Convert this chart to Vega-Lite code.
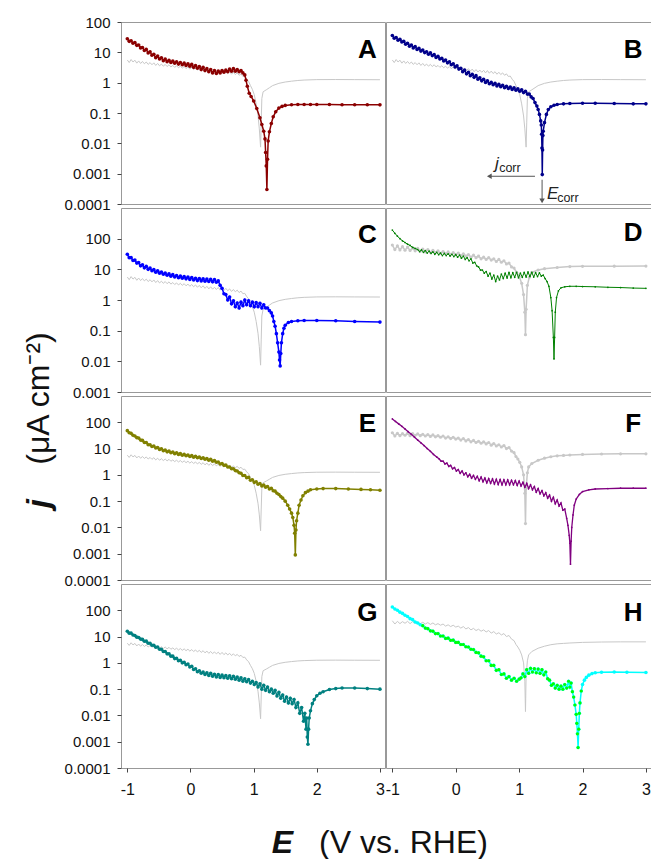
{
"$schema": "https://vega.github.io/schema/vega-lite/v6.json",
"padding": {"left": 21, "top": 14, "right": 0, "bottom": 0},
"background": "white",
"config": {
  "font": "Liberation Sans",
  "view": {"stroke": "#999999", "strokeWidth": 1},
  "axis": {"domain": false, "grid": false, "ticks": true, "tickSize": 4, "tickColor": "#444444", "labelFontSize": 15, "labelColor": "#111111", "labelFont": "Liberation Sans", "titleFont": "Liberation Sans", "titleColor": "#111111", "labelPadding": 7, "labelOverlap": false, "labelFlush": false},
  "axisX": {"labelFontSize": 16, "labelPadding": 9}
},
"datasets": {
"ref1": [
{"E":-1,"j":5.6},{"E":-0.97,"j":4.6},{"E":-0.94,"j":5.8},{"E":-0.91,"j":4.8},{"E":-0.88,"j":5.5},{"E":-0.85,"j":4.4},{"E":-0.82,"j":5.2},{"E":-0.79,"j":4.3},{"E":-0.76,"j":5.0},{"E":-0.73,"j":4.2},{"E":-0.7,"j":4.8},{"E":-0.67,"j":4.0},{"E":-0.64,"j":4.6},{"E":-0.61,"j":3.9},{"E":-0.58,"j":4.5},{"E":-0.55,"j":3.7},{"E":-0.52,"j":4.3},{"E":-0.49,"j":3.6},{"E":-0.46,"j":4.1},{"E":-0.43,"j":3.5},{"E":-0.4,"j":4.0},{"E":-0.37,"j":3.4},{"E":-0.34,"j":3.9},{"E":-0.31,"j":3.3},{"E":-0.28,"j":3.7},{"E":-0.25,"j":3.2},{"E":-0.22,"j":3.6},{"E":-0.19,"j":3.1},{"E":-0.16,"j":3.5},{"E":-0.13,"j":3.0},{"E":-0.1,"j":3.4},{"E":-0.07,"j":2.9},{"E":-0.04,"j":3.3},{"E":-0.01,"j":2.8},{"E":0.02,"j":3.2},{"E":0.05,"j":2.7},{"E":0.08,"j":3.1},{"E":0.11,"j":2.6},{"E":0.14,"j":3.0},{"E":0.17,"j":2.5},{"E":0.2,"j":2.9},{"E":0.23,"j":2.4},{"E":0.26,"j":2.8},{"E":0.29,"j":2.3},{"E":0.32,"j":2.7},{"E":0.35,"j":2.25},{"E":0.38,"j":2.6},{"E":0.41,"j":2.2},{"E":0.44,"j":2.55},{"E":0.47,"j":2.1},{"E":0.5,"j":2.5},{"E":0.53,"j":2.05},{"E":0.56,"j":2.4},{"E":0.59,"j":2.0},{"E":0.62,"j":2.3},{"E":0.65,"j":1.9},{"E":0.68,"j":2.2},{"E":0.71,"j":1.85},{"E":0.74,"j":2.1},{"E":0.77,"j":1.75},{"E":0.8,"j":1.95},{"E":0.83,"j":1.6},{"E":0.86,"j":1.65},{"E":0.89,"j":1.3},{"E":0.92,"j":1.1},{"E":0.95,"j":0.8},{"E":0.98,"j":0.6},{"E":1.01,"j":0.4},{"E":1.04,"j":0.2},{"E":1.07,"j":0.08},{"E":1.09,"j":0.03},{"E":1.11,"j":0.0075},{"E":1.12,"j":0.05},{"E":1.13,"j":0.3},{"E":1.15,"j":0.5},{"E":1.2,"j":0.58},{"E":1.25,"j":0.68},{"E":1.3,"j":0.8},{"E":1.4,"j":0.95},{"E":1.5,"j":1.05},{"E":1.6,"j":1.12},{"E":1.7,"j":1.18},{"E":1.8,"j":1.22},{"E":2.0,"j":1.26},{"E":2.3,"j":1.27},{"E":2.6,"j":1.26},{"E":3.0,"j":1.25}
],
"ref2": [
{"E":-1,"j":40},{"E":-0.96,"j":30},{"E":-0.92,"j":38},{"E":-0.88,"j":31},{"E":-0.84,"j":37},{"E":-0.8,"j":32},{"E":-0.76,"j":38},{"E":-0.72,"j":31},{"E":-0.68,"j":37},{"E":-0.64,"j":32},{"E":-0.6,"j":36},{"E":-0.56,"j":31},{"E":-0.52,"j":35},{"E":-0.48,"j":30},{"E":-0.44,"j":34},{"E":-0.4,"j":29},{"E":-0.36,"j":33},{"E":-0.32,"j":28},{"E":-0.28,"j":31},{"E":-0.24,"j":27},{"E":-0.2,"j":30},{"E":-0.16,"j":25},{"E":-0.12,"j":28},{"E":-0.08,"j":24},{"E":-0.04,"j":27},{"E":0,"j":23},{"E":0.04,"j":25},{"E":0.08,"j":21},{"E":0.12,"j":24},{"E":0.16,"j":19.5},{"E":0.2,"j":22},{"E":0.24,"j":18},{"E":0.28,"j":20.5},{"E":0.32,"j":17},{"E":0.36,"j":19},{"E":0.4,"j":16},{"E":0.44,"j":18},{"E":0.48,"j":15},{"E":0.52,"j":17},{"E":0.56,"j":13.5},{"E":0.6,"j":15.5},{"E":0.64,"j":12.5},{"E":0.68,"j":14},{"E":0.72,"j":11.5},{"E":0.76,"j":13},{"E":0.8,"j":10},{"E":0.84,"j":11},{"E":0.88,"j":8},{"E":0.92,"j":7},{"E":0.95,"j":5},{"E":0.98,"j":4},{"E":1.01,"j":3},{"E":1.04,"j":2},{"E":1.07,"j":1},{"E":1.09,"j":0.2},{"E":1.1,"j":0.014},{"E":1.11,"j":0.3},{"E":1.13,"j":1.2},{"E":1.15,"j":2.0},{"E":1.2,"j":2.7},{"E":1.3,"j":3.6},{"E":1.4,"j":4.3},{"E":1.5,"j":4.9},{"E":1.6,"j":5.3},{"E":1.7,"j":5.5},{"E":1.8,"j":5.7},{"E":2.0,"j":6.0},{"E":2.3,"j":6.2},{"E":2.6,"j":6.3},{"E":3.0,"j":6.3}
],
"ref3": [
{"E":-1,"j":62},{"E":-0.96,"j":44},{"E":-0.92,"j":58},{"E":-0.88,"j":43},{"E":-0.84,"j":55},{"E":-0.8,"j":42},{"E":-0.76,"j":53},{"E":-0.72,"j":41},{"E":-0.68,"j":50},{"E":-0.64,"j":40},{"E":-0.6,"j":48},{"E":-0.56,"j":39},{"E":-0.52,"j":46},{"E":-0.48,"j":37},{"E":-0.44,"j":44},{"E":-0.4,"j":36},{"E":-0.36,"j":42},{"E":-0.32,"j":35},{"E":-0.28,"j":40},{"E":-0.24,"j":33},{"E":-0.2,"j":38},{"E":-0.16,"j":32},{"E":-0.12,"j":37},{"E":-0.08,"j":31},{"E":-0.04,"j":35},{"E":0,"j":30},{"E":0.04,"j":34},{"E":0.08,"j":28},{"E":0.12,"j":32},{"E":0.16,"j":27},{"E":0.2,"j":30},{"E":0.24,"j":25},{"E":0.28,"j":29},{"E":0.32,"j":24},{"E":0.36,"j":27},{"E":0.4,"j":22},{"E":0.44,"j":25},{"E":0.48,"j":21},{"E":0.52,"j":24},{"E":0.56,"j":20},{"E":0.6,"j":22},{"E":0.64,"j":18},{"E":0.68,"j":21},{"E":0.72,"j":17},{"E":0.76,"j":19},{"E":0.8,"j":15},{"E":0.84,"j":16},{"E":0.88,"j":12},{"E":0.92,"j":11},{"E":0.96,"j":8},{"E":1.0,"j":6},{"E":1.04,"j":3.5},{"E":1.07,"j":1.5},{"E":1.09,"j":0.4},{"E":1.1,"j":0.074},{"E":1.11,"j":0.5},{"E":1.13,"j":3.0},{"E":1.16,"j":5.5},{"E":1.2,"j":8.0},{"E":1.3,"j":9.5},{"E":1.4,"j":10.5},{"E":1.6,"j":11.5},{"E":1.8,"j":12.3},{"E":2.0,"j":12.5},{"E":2.5,"j":12.7},{"E":3.0,"j":12.8}
],
"s": [
{"p":"A","E":-1,"j":28},{"p":"A","E":-0.97,"j":23},{"p":"A","E":-0.94,"j":24},{"p":"A","E":-0.91,"j":20},{"p":"A","E":-0.88,"j":21},{"p":"A","E":-0.85,"j":17},{"p":"A","E":-0.82,"j":17.5},{"p":"A","E":-0.79,"j":14},{"p":"A","E":-0.76,"j":14.5},{"p":"A","E":-0.73,"j":11.5},{"p":"A","E":-0.7,"j":12.5},{"p":"A","E":-0.67,"j":9.5},{"p":"A","E":-0.64,"j":10.5},{"p":"A","E":-0.61,"j":8},{"p":"A","E":-0.58,"j":8.6},{"p":"A","E":-0.55,"j":6.6},{"p":"A","E":-0.52,"j":7.5},{"p":"A","E":-0.49,"j":6.0},{"p":"A","E":-0.46,"j":6.6},{"p":"A","E":-0.43,"j":5.3},{"p":"A","E":-0.4,"j":6.0},{"p":"A","E":-0.37,"j":4.9},{"p":"A","E":-0.34,"j":5.5},{"p":"A","E":-0.31,"j":4.6},{"p":"A","E":-0.28,"j":5.2},{"p":"A","E":-0.25,"j":4.4},{"p":"A","E":-0.22,"j":4.9},{"p":"A","E":-0.19,"j":4.1},{"p":"A","E":-0.16,"j":4.6},{"p":"A","E":-0.13,"j":3.9},{"p":"A","E":-0.1,"j":4.4},{"p":"A","E":-0.07,"j":3.7},{"p":"A","E":-0.04,"j":4.2},{"p":"A","E":-0.01,"j":3.5},{"p":"A","E":0.02,"j":4.0},{"p":"A","E":0.05,"j":3.2},{"p":"A","E":0.08,"j":3.7},{"p":"A","E":0.11,"j":3.0},{"p":"A","E":0.14,"j":3.4},{"p":"A","E":0.17,"j":2.7},{"p":"A","E":0.2,"j":3.2},{"p":"A","E":0.23,"j":2.5},{"p":"A","E":0.26,"j":2.9},{"p":"A","E":0.29,"j":2.3},{"p":"A","E":0.32,"j":2.7},{"p":"A","E":0.35,"j":2.1},{"p":"A","E":0.38,"j":2.5},{"p":"A","E":0.41,"j":2.0},{"p":"A","E":0.44,"j":2.4},{"p":"A","E":0.47,"j":2.1},{"p":"A","E":0.5,"j":2.5},{"p":"A","E":0.53,"j":2.2},{"p":"A","E":0.56,"j":2.6},{"p":"A","E":0.59,"j":2.3},{"p":"A","E":0.62,"j":2.8},{"p":"A","E":0.65,"j":2.4},{"p":"A","E":0.68,"j":2.9},{"p":"A","E":0.71,"j":2.4},{"p":"A","E":0.74,"j":2.7},{"p":"A","E":0.77,"j":2.3},{"p":"A","E":0.8,"j":2.5},{"p":"A","E":0.83,"j":2.1},{"p":"A","E":0.86,"j":1.8},{"p":"A","E":0.88,"j":1.2},{"p":"A","E":0.9,"j":0.76},{"p":"A","E":0.93,"j":0.45},{"p":"A","E":0.96,"j":0.35},{"p":"A","E":1.0,"j":0.25},{"p":"A","E":1.05,"j":0.14},{"p":"A","E":1.1,"j":0.07},{"p":"A","E":1.13,"j":0.042},{"p":"A","E":1.16,"j":0.025},{"p":"A","E":1.18,"j":0.014},{"p":"A","E":1.19,"j":0.005},{"p":"A","E":1.2,"j":0.0018},{"p":"A","E":1.21,"j":0.0003},{"p":"A","E":1.22,"j":0.003},{"p":"A","E":1.23,"j":0.012},{"p":"A","E":1.25,"j":0.024},{"p":"A","E":1.28,"j":0.045},{"p":"A","E":1.31,"j":0.075},{"p":"A","E":1.35,"j":0.11},{"p":"A","E":1.4,"j":0.145},{"p":"A","E":1.45,"j":0.165},{"p":"A","E":1.5,"j":0.178},{"p":"A","E":1.6,"j":0.188},{"p":"A","E":1.7,"j":0.19},{"p":"A","E":1.8,"j":0.19},{"p":"A","E":1.9,"j":0.19},{"p":"A","E":2.0,"j":0.19},{"p":"A","E":2.2,"j":0.19},{"p":"A","E":2.4,"j":0.188},{"p":"A","E":2.6,"j":0.188},{"p":"A","E":2.8,"j":0.187},{"p":"A","E":3.0,"j":0.186},
{"p":"B","E":-1,"j":36},{"p":"B","E":-0.97,"j":29},{"p":"B","E":-0.94,"j":31},{"p":"B","E":-0.91,"j":25},{"p":"B","E":-0.88,"j":27},{"p":"B","E":-0.85,"j":22},{"p":"B","E":-0.82,"j":23},{"p":"B","E":-0.79,"j":18.5},{"p":"B","E":-0.76,"j":20},{"p":"B","E":-0.73,"j":16},{"p":"B","E":-0.7,"j":17.5},{"p":"B","E":-0.67,"j":14},{"p":"B","E":-0.64,"j":15.5},{"p":"B","E":-0.61,"j":12.5},{"p":"B","E":-0.58,"j":13.5},{"p":"B","E":-0.55,"j":11},{"p":"B","E":-0.52,"j":12},{"p":"B","E":-0.49,"j":9.8},{"p":"B","E":-0.46,"j":10.5},{"p":"B","E":-0.43,"j":8.6},{"p":"B","E":-0.4,"j":9.6},{"p":"B","E":-0.37,"j":7.8},{"p":"B","E":-0.34,"j":8.4},{"p":"B","E":-0.31,"j":6.8},{"p":"B","E":-0.28,"j":7.4},{"p":"B","E":-0.25,"j":6.0},{"p":"B","E":-0.22,"j":6.4},{"p":"B","E":-0.19,"j":5.2},{"p":"B","E":-0.16,"j":5.6},{"p":"B","E":-0.13,"j":4.5},{"p":"B","E":-0.1,"j":4.9},{"p":"B","E":-0.07,"j":3.9},{"p":"B","E":-0.04,"j":4.2},{"p":"B","E":-0.01,"j":3.3},{"p":"B","E":0.02,"j":3.6},{"p":"B","E":0.05,"j":2.8},{"p":"B","E":0.08,"j":3.0},{"p":"B","E":0.11,"j":2.3},{"p":"B","E":0.14,"j":2.6},{"p":"B","E":0.17,"j":1.95},{"p":"B","E":0.2,"j":2.2},{"p":"B","E":0.23,"j":1.7},{"p":"B","E":0.26,"j":1.9},{"p":"B","E":0.29,"j":1.5},{"p":"B","E":0.32,"j":1.7},{"p":"B","E":0.35,"j":1.3},{"p":"B","E":0.38,"j":1.45},{"p":"B","E":0.41,"j":1.15},{"p":"B","E":0.44,"j":1.3},{"p":"B","E":0.47,"j":1.02},{"p":"B","E":0.5,"j":1.15},{"p":"B","E":0.53,"j":0.92},{"p":"B","E":0.56,"j":1.02},{"p":"B","E":0.59,"j":0.85},{"p":"B","E":0.62,"j":0.95},{"p":"B","E":0.65,"j":0.78},{"p":"B","E":0.68,"j":0.88},{"p":"B","E":0.71,"j":0.73},{"p":"B","E":0.74,"j":0.82},{"p":"B","E":0.77,"j":0.68},{"p":"B","E":0.8,"j":0.76},{"p":"B","E":0.83,"j":0.64},{"p":"B","E":0.86,"j":0.72},{"p":"B","E":0.89,"j":0.6},{"p":"B","E":0.92,"j":0.68},{"p":"B","E":0.95,"j":0.56},{"p":"B","E":0.98,"j":0.63},{"p":"B","E":1.01,"j":0.52},{"p":"B","E":1.04,"j":0.58},{"p":"B","E":1.07,"j":0.47},{"p":"B","E":1.1,"j":0.52},{"p":"B","E":1.13,"j":0.42},{"p":"B","E":1.16,"j":0.42},{"p":"B","E":1.19,"j":0.34},{"p":"B","E":1.22,"j":0.3},{"p":"B","E":1.25,"j":0.22},{"p":"B","E":1.28,"j":0.17},{"p":"B","E":1.3,"j":0.13},{"p":"B","E":1.32,"j":0.09},{"p":"B","E":1.34,"j":0.055},{"p":"B","E":1.35,"j":0.04},{"p":"B","E":1.355,"j":0.02},{"p":"B","E":1.36,"j":0.007},{"p":"B","E":1.365,"j":0.00093},{"p":"B","E":1.37,"j":0.006},{"p":"B","E":1.375,"j":0.018},{"p":"B","E":1.38,"j":0.025},{"p":"B","E":1.4,"j":0.048},{"p":"B","E":1.43,"j":0.09},{"p":"B","E":1.46,"j":0.13},{"p":"B","E":1.5,"j":0.16},{"p":"B","E":1.55,"j":0.18},{"p":"B","E":1.6,"j":0.19},{"p":"B","E":1.7,"j":0.2},{"p":"B","E":1.8,"j":0.205},{"p":"B","E":2.0,"j":0.21},{"p":"B","E":2.2,"j":0.21},{"p":"B","E":2.5,"j":0.205},{"p":"B","E":2.8,"j":0.2},{"p":"B","E":3.0,"j":0.2},
{"p":"C","E":-1,"j":31},{"p":"C","E":-0.97,"j":24},{"p":"C","E":-0.94,"j":24},{"p":"C","E":-0.91,"j":19.5},{"p":"C","E":-0.88,"j":20},{"p":"C","E":-0.85,"j":16},{"p":"C","E":-0.82,"j":16.5},{"p":"C","E":-0.79,"j":13},{"p":"C","E":-0.76,"j":14},{"p":"C","E":-0.73,"j":11.2},{"p":"C","E":-0.7,"j":12.5},{"p":"C","E":-0.67,"j":10},{"p":"C","E":-0.64,"j":11},{"p":"C","E":-0.61,"j":9},{"p":"C","E":-0.58,"j":9.8},{"p":"C","E":-0.55,"j":8},{"p":"C","E":-0.52,"j":9},{"p":"C","E":-0.49,"j":7.5},{"p":"C","E":-0.46,"j":8.2},{"p":"C","E":-0.43,"j":6.9},{"p":"C","E":-0.4,"j":7.6},{"p":"C","E":-0.37,"j":6.4},{"p":"C","E":-0.34,"j":7.1},{"p":"C","E":-0.31,"j":6.0},{"p":"C","E":-0.28,"j":6.7},{"p":"C","E":-0.25,"j":5.6},{"p":"C","E":-0.22,"j":6.3},{"p":"C","E":-0.19,"j":5.3},{"p":"C","E":-0.16,"j":6.0},{"p":"C","E":-0.13,"j":5.1},{"p":"C","E":-0.1,"j":5.8},{"p":"C","E":-0.07,"j":4.9},{"p":"C","E":-0.04,"j":5.6},{"p":"C","E":-0.01,"j":4.7},{"p":"C","E":0.02,"j":5.4},{"p":"C","E":0.05,"j":4.5},{"p":"C","E":0.08,"j":5.1},{"p":"C","E":0.11,"j":4.3},{"p":"C","E":0.14,"j":5.0},{"p":"C","E":0.17,"j":4.2},{"p":"C","E":0.2,"j":4.9},{"p":"C","E":0.23,"j":4.1},{"p":"C","E":0.26,"j":4.8},{"p":"C","E":0.29,"j":4.0},{"p":"C","E":0.32,"j":4.7},{"p":"C","E":0.35,"j":3.9},{"p":"C","E":0.38,"j":4.6},{"p":"C","E":0.41,"j":3.8},{"p":"C","E":0.44,"j":4.2},{"p":"C","E":0.47,"j":3.0},{"p":"C","E":0.5,"j":2.4},{"p":"C","E":0.53,"j":1.6},{"p":"C","E":0.56,"j":1.5},{"p":"C","E":0.59,"j":1.0},{"p":"C","E":0.62,"j":1.25},{"p":"C","E":0.65,"j":0.75},{"p":"C","E":0.68,"j":0.95},{"p":"C","E":0.71,"j":0.6},{"p":"C","E":0.74,"j":0.8},{"p":"C","E":0.77,"j":0.55},{"p":"C","E":0.8,"j":0.85},{"p":"C","E":0.83,"j":0.65},{"p":"C","E":0.86,"j":1.0},{"p":"C","E":0.89,"j":0.7},{"p":"C","E":0.92,"j":0.95},{"p":"C","E":0.95,"j":0.65},{"p":"C","E":0.98,"j":0.85},{"p":"C","E":1.01,"j":0.6},{"p":"C","E":1.04,"j":0.82},{"p":"C","E":1.07,"j":0.6},{"p":"C","E":1.1,"j":0.78},{"p":"C","E":1.13,"j":0.55},{"p":"C","E":1.16,"j":0.7},{"p":"C","E":1.19,"j":0.55},{"p":"C","E":1.22,"j":0.55},{"p":"C","E":1.25,"j":0.45},{"p":"C","E":1.28,"j":0.38},{"p":"C","E":1.3,"j":0.3},{"p":"C","E":1.32,"j":0.2},{"p":"C","E":1.34,"j":0.14},{"p":"C","E":1.36,"j":0.08},{"p":"C","E":1.38,"j":0.04},{"p":"C","E":1.4,"j":0.02},{"p":"C","E":1.41,"j":0.011},{"p":"C","E":1.42,"j":0.0071},{"p":"C","E":1.43,"j":0.018},{"p":"C","E":1.44,"j":0.04},{"p":"C","E":1.46,"j":0.08},{"p":"C","E":1.48,"j":0.12},{"p":"C","E":1.5,"j":0.15},{"p":"C","E":1.55,"j":0.185},{"p":"C","E":1.6,"j":0.2},{"p":"C","E":1.7,"j":0.21},{"p":"C","E":1.8,"j":0.215},{"p":"C","E":2.0,"j":0.215},{"p":"C","E":2.3,"j":0.21},{"p":"C","E":2.6,"j":0.2},{"p":"C","E":3.0,"j":0.19},
{"p":"D","E":-1,"j":190},{"p":"D","E":-0.96,"j":150},{"p":"D","E":-0.92,"j":120},{"p":"D","E":-0.88,"j":100},{"p":"D","E":-0.84,"j":85},{"p":"D","E":-0.8,"j":75},{"p":"D","E":-0.76,"j":66},{"p":"D","E":-0.72,"j":60},{"p":"D","E":-0.68,"j":52},{"p":"D","E":-0.64,"j":48},{"p":"D","E":-0.6,"j":44},{"p":"D","E":-0.57,"j":38},{"p":"D","E":-0.54,"j":43},{"p":"D","E":-0.51,"j":36},{"p":"D","E":-0.48,"j":41},{"p":"D","E":-0.45,"j":34},{"p":"D","E":-0.42,"j":39},{"p":"D","E":-0.39,"j":33},{"p":"D","E":-0.36,"j":37},{"p":"D","E":-0.33,"j":31},{"p":"D","E":-0.3,"j":36},{"p":"D","E":-0.27,"j":30},{"p":"D","E":-0.24,"j":34},{"p":"D","E":-0.21,"j":28},{"p":"D","E":-0.18,"j":33},{"p":"D","E":-0.15,"j":28},{"p":"D","E":-0.12,"j":32},{"p":"D","E":-0.09,"j":27},{"p":"D","E":-0.06,"j":31},{"p":"D","E":-0.03,"j":26},{"p":"D","E":0,"j":30},{"p":"D","E":0.03,"j":25},{"p":"D","E":0.06,"j":29},{"p":"D","E":0.09,"j":23},{"p":"D","E":0.12,"j":27},{"p":"D","E":0.15,"j":21},{"p":"D","E":0.18,"j":24},{"p":"D","E":0.21,"j":19},{"p":"D","E":0.24,"j":22},{"p":"D","E":0.27,"j":16},{"p":"D","E":0.3,"j":17},{"p":"D","E":0.33,"j":13},{"p":"D","E":0.36,"j":12},{"p":"D","E":0.39,"j":9.5},{"p":"D","E":0.42,"j":9.5},{"p":"D","E":0.45,"j":7.5},{"p":"D","E":0.48,"j":8.5},{"p":"D","E":0.51,"j":6.0},{"p":"D","E":0.54,"j":7.5},{"p":"D","E":0.57,"j":4.8},{"p":"D","E":0.6,"j":6.5},{"p":"D","E":0.63,"j":4.0},{"p":"D","E":0.66,"j":6.0},{"p":"D","E":0.69,"j":4.5},{"p":"D","E":0.72,"j":7.0},{"p":"D","E":0.75,"j":5.0},{"p":"D","E":0.78,"j":7.5},{"p":"D","E":0.81,"j":5.2},{"p":"D","E":0.84,"j":8.0},{"p":"D","E":0.87,"j":5.3},{"p":"D","E":0.9,"j":7.8},{"p":"D","E":0.93,"j":5.5},{"p":"D","E":0.96,"j":8.0},{"p":"D","E":0.99,"j":5.3},{"p":"D","E":1.02,"j":7.5},{"p":"D","E":1.05,"j":5.5},{"p":"D","E":1.08,"j":8.0},{"p":"D","E":1.11,"j":5.6},{"p":"D","E":1.14,"j":8.2},{"p":"D","E":1.17,"j":5.8},{"p":"D","E":1.2,"j":8.0},{"p":"D","E":1.23,"j":5.6},{"p":"D","E":1.26,"j":7.8},{"p":"D","E":1.29,"j":5.8},{"p":"D","E":1.32,"j":7.6},{"p":"D","E":1.35,"j":6.0},{"p":"D","E":1.38,"j":6.5},{"p":"D","E":1.41,"j":5.0},{"p":"D","E":1.44,"j":4.0},{"p":"D","E":1.47,"j":2.8},{"p":"D","E":1.5,"j":1.2},{"p":"D","E":1.52,"j":0.45},{"p":"D","E":1.54,"j":0.06},{"p":"D","E":1.55,"j":0.012},{"p":"D","E":1.56,"j":0.06},{"p":"D","E":1.57,"j":0.4},{"p":"D","E":1.59,"j":1.2},{"p":"D","E":1.62,"j":2.0},{"p":"D","E":1.66,"j":2.5},{"p":"D","E":1.72,"j":2.7},{"p":"D","E":1.8,"j":2.8},{"p":"D","E":1.9,"j":2.8},{"p":"D","E":2.0,"j":2.75},{"p":"D","E":2.2,"j":2.7},{"p":"D","E":2.4,"j":2.6},{"p":"D","E":2.6,"j":2.55},{"p":"D","E":2.8,"j":2.45},{"p":"D","E":3.0,"j":2.4},
{"p":"E","E":-1,"j":48},{"p":"E","E":-0.97,"j":40},{"p":"E","E":-0.94,"j":38},{"p":"E","E":-0.91,"j":32},{"p":"E","E":-0.88,"j":30},{"p":"E","E":-0.85,"j":26},{"p":"E","E":-0.82,"j":25},{"p":"E","E":-0.79,"j":21},{"p":"E","E":-0.76,"j":20.5},{"p":"E","E":-0.73,"j":17},{"p":"E","E":-0.7,"j":17},{"p":"E","E":-0.67,"j":14},{"p":"E","E":-0.64,"j":14},{"p":"E","E":-0.61,"j":12},{"p":"E","E":-0.58,"j":12.5},{"p":"E","E":-0.55,"j":10.5},{"p":"E","E":-0.52,"j":11},{"p":"E","E":-0.49,"j":9.3},{"p":"E","E":-0.46,"j":9.8},{"p":"E","E":-0.43,"j":8.3},{"p":"E","E":-0.4,"j":8.8},{"p":"E","E":-0.37,"j":7.5},{"p":"E","E":-0.34,"j":8.0},{"p":"E","E":-0.31,"j":6.9},{"p":"E","E":-0.28,"j":7.4},{"p":"E","E":-0.25,"j":6.4},{"p":"E","E":-0.22,"j":6.9},{"p":"E","E":-0.19,"j":6.0},{"p":"E","E":-0.16,"j":6.4},{"p":"E","E":-0.13,"j":5.6},{"p":"E","E":-0.1,"j":6.0},{"p":"E","E":-0.07,"j":5.3},{"p":"E","E":-0.04,"j":5.7},{"p":"E","E":-0.01,"j":5.0},{"p":"E","E":0.02,"j":5.4},{"p":"E","E":0.05,"j":4.7},{"p":"E","E":0.08,"j":5.1},{"p":"E","E":0.11,"j":4.5},{"p":"E","E":0.14,"j":4.8},{"p":"E","E":0.17,"j":4.2},{"p":"E","E":0.2,"j":4.5},{"p":"E","E":0.23,"j":3.9},{"p":"E","E":0.26,"j":4.2},{"p":"E","E":0.29,"j":3.6},{"p":"E","E":0.32,"j":3.9},{"p":"E","E":0.35,"j":3.3},{"p":"E","E":0.38,"j":3.5},{"p":"E","E":0.41,"j":3.0},{"p":"E","E":0.44,"j":3.1},{"p":"E","E":0.47,"j":2.6},{"p":"E","E":0.5,"j":2.7},{"p":"E","E":0.53,"j":2.3},{"p":"E","E":0.56,"j":2.35},{"p":"E","E":0.59,"j":2.0},{"p":"E","E":0.62,"j":2.0},{"p":"E","E":0.65,"j":1.7},{"p":"E","E":0.68,"j":1.7},{"p":"E","E":0.71,"j":1.45},{"p":"E","E":0.74,"j":1.4},{"p":"E","E":0.77,"j":1.2},{"p":"E","E":0.8,"j":1.15},{"p":"E","E":0.83,"j":0.95},{"p":"E","E":0.86,"j":0.95},{"p":"E","E":0.89,"j":0.78},{"p":"E","E":0.92,"j":0.8},{"p":"E","E":0.95,"j":0.62},{"p":"E","E":0.98,"j":0.65},{"p":"E","E":1.01,"j":0.52},{"p":"E","E":1.04,"j":0.55},{"p":"E","E":1.07,"j":0.44},{"p":"E","E":1.1,"j":0.47},{"p":"E","E":1.13,"j":0.38},{"p":"E","E":1.16,"j":0.41},{"p":"E","E":1.19,"j":0.34},{"p":"E","E":1.22,"j":0.36},{"p":"E","E":1.25,"j":0.29},{"p":"E","E":1.28,"j":0.31},{"p":"E","E":1.31,"j":0.25},{"p":"E","E":1.34,"j":0.24},{"p":"E","E":1.37,"j":0.2},{"p":"E","E":1.4,"j":0.18},{"p":"E","E":1.43,"j":0.15},{"p":"E","E":1.46,"j":0.13},{"p":"E","E":1.5,"j":0.1},{"p":"E","E":1.54,"j":0.07},{"p":"E","E":1.57,"j":0.05},{"p":"E","E":1.6,"j":0.035},{"p":"E","E":1.62,"j":0.024},{"p":"E","E":1.64,"j":0.012},{"p":"E","E":1.65,"j":0.006},{"p":"E","E":1.66,"j":0.0009},{"p":"E","E":1.67,"j":0.008},{"p":"E","E":1.68,"j":0.018},{"p":"E","E":1.7,"j":0.035},{"p":"E","E":1.72,"j":0.07},{"p":"E","E":1.75,"j":0.11},{"p":"E","E":1.78,"j":0.16},{"p":"E","E":1.82,"j":0.21},{"p":"E","E":1.86,"j":0.24},{"p":"E","E":1.9,"j":0.27},{"p":"E","E":2.0,"j":0.29},{"p":"E","E":2.1,"j":0.3},{"p":"E","E":2.3,"j":0.3},{"p":"E","E":2.5,"j":0.29},{"p":"E","E":2.7,"j":0.28},{"p":"E","E":2.85,"j":0.27},{"p":"E","E":3.0,"j":0.26},
{"p":"F","E":-1,"j":134},{"p":"F","E":-0.95,"j":108},{"p":"F","E":-0.9,"j":87},{"p":"F","E":-0.85,"j":70},{"p":"F","E":-0.8,"j":56},{"p":"F","E":-0.75,"j":44},{"p":"F","E":-0.7,"j":35},{"p":"F","E":-0.65,"j":27},{"p":"F","E":-0.6,"j":21},{"p":"F","E":-0.55,"j":16.5},{"p":"F","E":-0.5,"j":13},{"p":"F","E":-0.45,"j":10},{"p":"F","E":-0.4,"j":7.9},{"p":"F","E":-0.35,"j":6.0},{"p":"F","E":-0.3,"j":4.8},{"p":"F","E":-0.26,"j":4.0},{"p":"F","E":-0.23,"j":3.3},{"p":"F","E":-0.2,"j":3.3},{"p":"F","E":-0.17,"j":2.6},{"p":"F","E":-0.14,"j":2.8},{"p":"F","E":-0.11,"j":2.1},{"p":"F","E":-0.08,"j":2.3},{"p":"F","E":-0.05,"j":1.7},{"p":"F","E":-0.02,"j":1.9},{"p":"F","E":0.01,"j":1.4},{"p":"F","E":0.04,"j":1.6},{"p":"F","E":0.07,"j":1.15},{"p":"F","E":0.1,"j":1.4},{"p":"F","E":0.13,"j":1.0},{"p":"F","E":0.16,"j":1.2},{"p":"F","E":0.19,"j":0.85},{"p":"F","E":0.22,"j":1.05},{"p":"F","E":0.25,"j":0.75},{"p":"F","E":0.28,"j":0.95},{"p":"F","E":0.31,"j":0.68},{"p":"F","E":0.34,"j":0.88},{"p":"F","E":0.37,"j":0.6},{"p":"F","E":0.4,"j":0.82},{"p":"F","E":0.43,"j":0.55},{"p":"F","E":0.46,"j":0.75},{"p":"F","E":0.49,"j":0.5},{"p":"F","E":0.52,"j":0.72},{"p":"F","E":0.55,"j":0.48},{"p":"F","E":0.58,"j":0.7},{"p":"F","E":0.61,"j":0.45},{"p":"F","E":0.64,"j":0.68},{"p":"F","E":0.67,"j":0.43},{"p":"F","E":0.7,"j":0.66},{"p":"F","E":0.73,"j":0.42},{"p":"F","E":0.76,"j":0.65},{"p":"F","E":0.79,"j":0.42},{"p":"F","E":0.82,"j":0.64},{"p":"F","E":0.85,"j":0.42},{"p":"F","E":0.88,"j":0.62},{"p":"F","E":0.91,"j":0.42},{"p":"F","E":0.94,"j":0.6},{"p":"F","E":0.97,"j":0.4},{"p":"F","E":1.0,"j":0.58},{"p":"F","E":1.03,"j":0.38},{"p":"F","E":1.06,"j":0.52},{"p":"F","E":1.09,"j":0.34},{"p":"F","E":1.12,"j":0.47},{"p":"F","E":1.15,"j":0.3},{"p":"F","E":1.18,"j":0.42},{"p":"F","E":1.21,"j":0.27},{"p":"F","E":1.24,"j":0.36},{"p":"F","E":1.27,"j":0.22},{"p":"F","E":1.3,"j":0.3},{"p":"F","E":1.33,"j":0.19},{"p":"F","E":1.36,"j":0.25},{"p":"F","E":1.39,"j":0.16},{"p":"F","E":1.42,"j":0.21},{"p":"F","E":1.45,"j":0.13},{"p":"F","E":1.48,"j":0.17},{"p":"F","E":1.51,"j":0.1},{"p":"F","E":1.54,"j":0.14},{"p":"F","E":1.57,"j":0.08},{"p":"F","E":1.6,"j":0.11},{"p":"F","E":1.63,"j":0.065},{"p":"F","E":1.66,"j":0.085},{"p":"F","E":1.69,"j":0.045},{"p":"F","E":1.72,"j":0.05},{"p":"F","E":1.75,"j":0.022},{"p":"F","E":1.77,"j":0.012},{"p":"F","E":1.79,"j":0.005},{"p":"F","E":1.8,"j":0.0025},{"p":"F","E":1.81,"j":0.0004},{"p":"F","E":1.82,"j":0.003},{"p":"F","E":1.83,"j":0.01},{"p":"F","E":1.85,"j":0.03},{"p":"F","E":1.87,"j":0.07},{"p":"F","E":1.9,"j":0.12},{"p":"F","E":1.95,"j":0.18},{"p":"F","E":2.0,"j":0.23},{"p":"F","E":2.1,"j":0.27},{"p":"F","E":2.2,"j":0.29},{"p":"F","E":2.4,"j":0.3},{"p":"F","E":2.6,"j":0.31},{"p":"F","E":2.8,"j":0.31},{"p":"F","E":3.0,"j":0.31},
{"p":"G","E":-1,"j":16},{"p":"G","E":-0.97,"j":13.5},{"p":"G","E":-0.94,"j":13.5},{"p":"G","E":-0.91,"j":11.5},{"p":"G","E":-0.88,"j":11},{"p":"G","E":-0.85,"j":9.5},{"p":"G","E":-0.82,"j":9.2},{"p":"G","E":-0.79,"j":8},{"p":"G","E":-0.76,"j":7.8},{"p":"G","E":-0.73,"j":6.6},{"p":"G","E":-0.7,"j":6.7},{"p":"G","E":-0.67,"j":5.6},{"p":"G","E":-0.64,"j":5.6},{"p":"G","E":-0.61,"j":4.7},{"p":"G","E":-0.58,"j":4.7},{"p":"G","E":-0.55,"j":3.9},{"p":"G","E":-0.52,"j":4.0},{"p":"G","E":-0.49,"j":3.3},{"p":"G","E":-0.46,"j":3.3},{"p":"G","E":-0.43,"j":2.7},{"p":"G","E":-0.4,"j":2.7},{"p":"G","E":-0.37,"j":2.2},{"p":"G","E":-0.34,"j":2.2},{"p":"G","E":-0.31,"j":1.8},{"p":"G","E":-0.28,"j":1.8},{"p":"G","E":-0.25,"j":1.45},{"p":"G","E":-0.22,"j":1.5},{"p":"G","E":-0.19,"j":1.2},{"p":"G","E":-0.16,"j":1.25},{"p":"G","E":-0.13,"j":1.0},{"p":"G","E":-0.1,"j":1.05},{"p":"G","E":-0.07,"j":0.85},{"p":"G","E":-0.04,"j":0.9},{"p":"G","E":-0.01,"j":0.7},{"p":"G","E":0.02,"j":0.74},{"p":"G","E":0.05,"j":0.56},{"p":"G","E":0.08,"j":0.6},{"p":"G","E":0.11,"j":0.46},{"p":"G","E":0.14,"j":0.5},{"p":"G","E":0.17,"j":0.4},{"p":"G","E":0.2,"j":0.45},{"p":"G","E":0.23,"j":0.36},{"p":"G","E":0.26,"j":0.42},{"p":"G","E":0.29,"j":0.33},{"p":"G","E":0.32,"j":0.4},{"p":"G","E":0.35,"j":0.31},{"p":"G","E":0.38,"j":0.37},{"p":"G","E":0.41,"j":0.29},{"p":"G","E":0.44,"j":0.36},{"p":"G","E":0.47,"j":0.28},{"p":"G","E":0.5,"j":0.34},{"p":"G","E":0.53,"j":0.27},{"p":"G","E":0.56,"j":0.33},{"p":"G","E":0.59,"j":0.26},{"p":"G","E":0.62,"j":0.32},{"p":"G","E":0.65,"j":0.25},{"p":"G","E":0.68,"j":0.31},{"p":"G","E":0.71,"j":0.24},{"p":"G","E":0.74,"j":0.29},{"p":"G","E":0.77,"j":0.22},{"p":"G","E":0.8,"j":0.27},{"p":"G","E":0.83,"j":0.2},{"p":"G","E":0.86,"j":0.25},{"p":"G","E":0.89,"j":0.19},{"p":"G","E":0.92,"j":0.23},{"p":"G","E":0.95,"j":0.17},{"p":"G","E":0.98,"j":0.2},{"p":"G","E":1.01,"j":0.15},{"p":"G","E":1.04,"j":0.18},{"p":"G","E":1.07,"j":0.12},{"p":"G","E":1.1,"j":0.16},{"p":"G","E":1.13,"j":0.1},{"p":"G","E":1.16,"j":0.14},{"p":"G","E":1.19,"j":0.09},{"p":"G","E":1.22,"j":0.12},{"p":"G","E":1.25,"j":0.08},{"p":"G","E":1.28,"j":0.1},{"p":"G","E":1.31,"j":0.07},{"p":"G","E":1.34,"j":0.09},{"p":"G","E":1.37,"j":0.055},{"p":"G","E":1.4,"j":0.075},{"p":"G","E":1.43,"j":0.045},{"p":"G","E":1.46,"j":0.06},{"p":"G","E":1.49,"j":0.035},{"p":"G","E":1.52,"j":0.05},{"p":"G","E":1.55,"j":0.03},{"p":"G","E":1.58,"j":0.045},{"p":"G","E":1.61,"j":0.028},{"p":"G","E":1.64,"j":0.04},{"p":"G","E":1.67,"j":0.02},{"p":"G","E":1.7,"j":0.03},{"p":"G","E":1.73,"j":0.012},{"p":"G","E":1.76,"j":0.02},{"p":"G","E":1.79,"j":0.006},{"p":"G","E":1.81,"j":0.012},{"p":"G","E":1.83,"j":0.003},{"p":"G","E":1.84,"j":0.008},{"p":"G","E":1.85,"j":0.0015},{"p":"G","E":1.86,"j":0.0008},{"p":"G","E":1.87,"j":0.003},{"p":"G","E":1.88,"j":0.008},{"p":"G","E":1.9,"j":0.015},{"p":"G","E":1.93,"j":0.028},{"p":"G","E":1.96,"j":0.04},{"p":"G","E":2.0,"j":0.056},{"p":"G","E":2.05,"j":0.07},{"p":"G","E":2.1,"j":0.08},{"p":"G","E":2.2,"j":0.097},{"p":"G","E":2.3,"j":0.105},{"p":"G","E":2.4,"j":0.11},{"p":"G","E":2.6,"j":0.11},{"p":"G","E":2.8,"j":0.105},{"p":"G","E":3.0,"j":0.1},
{"p":"H","E":-1,"j":134},{"p":"H","E":-0.96,"j":112},{"p":"H","E":-0.92,"j":100},{"p":"H","E":-0.88,"j":85},{"p":"H","E":-0.84,"j":76},{"p":"H","E":-0.8,"j":65},{"p":"H","E":-0.76,"j":58},{"p":"H","E":-0.72,"j":48},{"p":"H","E":-0.68,"j":44},{"p":"H","E":-0.64,"j":36},{"p":"H","E":-0.6,"j":33},{"p":"H","E":-0.56,"j":28},{"p":"H","E":-0.52,"j":26},{"p":"H","E":-0.48,"j":21},{"p":"H","E":-0.44,"j":20},{"p":"H","E":-0.4,"j":16.5},{"p":"H","E":-0.36,"j":16},{"p":"H","E":-0.32,"j":13},{"p":"H","E":-0.28,"j":13},{"p":"H","E":-0.24,"j":10.5},{"p":"H","E":-0.2,"j":10.5},{"p":"H","E":-0.16,"j":8.5},{"p":"H","E":-0.12,"j":8.7},{"p":"H","E":-0.08,"j":7.2},{"p":"H","E":-0.04,"j":7.3},{"p":"H","E":0,"j":6.0},{"p":"H","E":0.04,"j":6.0},{"p":"H","E":0.08,"j":5.0},{"p":"H","E":0.12,"j":5.0},{"p":"H","E":0.16,"j":4.1},{"p":"H","E":0.2,"j":4.0},{"p":"H","E":0.24,"j":3.3},{"p":"H","E":0.28,"j":3.2},{"p":"H","E":0.32,"j":2.5},{"p":"H","E":0.36,"j":2.4},{"p":"H","E":0.4,"j":1.8},{"p":"H","E":0.44,"j":1.7},{"p":"H","E":0.48,"j":1.2},{"p":"H","E":0.52,"j":1.2},{"p":"H","E":0.56,"j":0.8},{"p":"H","E":0.6,"j":0.8},{"p":"H","E":0.64,"j":0.52},{"p":"H","E":0.68,"j":0.55},{"p":"H","E":0.72,"j":0.36},{"p":"H","E":0.76,"j":0.38},{"p":"H","E":0.8,"j":0.26},{"p":"H","E":0.84,"j":0.3},{"p":"H","E":0.88,"j":0.22},{"p":"H","E":0.92,"j":0.26},{"p":"H","E":0.96,"j":0.2},{"p":"H","E":1.0,"j":0.24},{"p":"H","E":1.03,"j":0.27},{"p":"H","E":1.06,"j":0.38},{"p":"H","E":1.09,"j":0.3},{"p":"H","E":1.12,"j":0.55},{"p":"H","E":1.15,"j":0.4},{"p":"H","E":1.18,"j":0.62},{"p":"H","E":1.21,"j":0.45},{"p":"H","E":1.24,"j":0.6},{"p":"H","E":1.27,"j":0.42},{"p":"H","E":1.3,"j":0.58},{"p":"H","E":1.33,"j":0.4},{"p":"H","E":1.36,"j":0.55},{"p":"H","E":1.39,"j":0.35},{"p":"H","E":1.42,"j":0.45},{"p":"H","E":1.45,"j":0.25},{"p":"H","E":1.48,"j":0.22},{"p":"H","E":1.51,"j":0.14},{"p":"H","E":1.54,"j":0.16},{"p":"H","E":1.57,"j":0.11},{"p":"H","E":1.6,"j":0.14},{"p":"H","E":1.63,"j":0.1},{"p":"H","E":1.66,"j":0.13},{"p":"H","E":1.69,"j":0.1},{"p":"H","E":1.72,"j":0.15},{"p":"H","E":1.75,"j":0.11},{"p":"H","E":1.78,"j":0.2},{"p":"H","E":1.8,"j":0.12},{"p":"H","E":1.82,"j":0.17},{"p":"H","E":1.84,"j":0.08},{"p":"H","E":1.86,"j":0.05},{"p":"H","E":1.88,"j":0.025},{"p":"H","E":1.9,"j":0.011},{"p":"H","E":1.91,"j":0.005},{"p":"H","E":1.92,"j":0.002},{"p":"H","E":1.93,"j":0.0006},{"p":"H","E":1.94,"j":0.003},{"p":"H","E":1.95,"j":0.012},{"p":"H","E":1.96,"j":0.03},{"p":"H","E":1.98,"j":0.085},{"p":"H","E":2.0,"j":0.15},{"p":"H","E":2.03,"j":0.22},{"p":"H","E":2.06,"j":0.28},{"p":"H","E":2.1,"j":0.34},{"p":"H","E":2.15,"j":0.39},{"p":"H","E":2.2,"j":0.42},{"p":"H","E":2.3,"j":0.44},{"p":"H","E":2.5,"j":0.45},{"p":"H","E":2.7,"j":0.44},{"p":"H","E":3.0,"j":0.43}
],
"lab": [
{"p":"A","E":2.8,"j":12,"t":"A"},{"p":"B","E":2.8,"j":12,"t":"B"},{"p":"C","E":2.8,"j":132,"t":"C"},{"p":"D","E":2.8,"j":150,"t":"D"},{"p":"E","E":2.8,"j":89,"t":"E"},{"p":"F","E":2.8,"j":89,"t":"F"},{"p":"G","E":2.8,"j":79,"t":"G"},{"p":"H","E":2.8,"j":79,"t":"H"}
]
},
"columns": 2,
"spacing": {"row": 4, "column": 1},
"bounds": "flush",
"align": "each",
"concat": [
 {"width": 264, "height": 182,
  "encoding": {"x": {"field": "E", "type": "quantitative", "scale": {"domain": [-1.1, 3.08], "nice": false, "zero": false}, "axis": null},
   "y": {"field": "j", "type": "quantitative", "scale": {"type": "log", "domain": [0.0001, 100], "nice": false}, "axis": {"values": [0.0001, 0.001, 0.01, 0.1, 1, 10, 100], "format": "~g", "title": null}}},
  "layer": [
   {"data": {"name": "ref1"}, "mark": {"type": "line", "color": "#c8c8c8", "strokeWidth": 1, "clip": true}},
   {"data": {"name": "s"}, "transform": [{"filter": "datum.p === 'A'"}], "mark": {"type": "line", "color": "#8b0000", "strokeWidth": 1.5, "clip": true}},
   {"data": {"name": "s"}, "transform": [{"filter": "datum.p === 'A'"}], "mark": {"type": "point", "filled": true, "size": 13, "opacity": 1, "color": "#8b0000", "clip": true}},
   {"data": {"name": "lab"}, "transform": [{"filter": "datum.p === 'A'"}], "mark": {"type": "text", "fontSize": 26, "fontWeight": "bold", "color": "#000000"}, "encoding": {"text": {"field": "t"}}}
  ]},
 {"width": 265, "height": 182,
  "encoding": {"x": {"field": "E", "type": "quantitative", "scale": {"domain": [-1.1, 3.08], "nice": false, "zero": false}, "axis": null},
   "y": {"field": "j", "type": "quantitative", "scale": {"type": "log", "domain": [0.0001, 100], "nice": false}, "axis": null}},
  "layer": [
   {"data": {"name": "ref1"}, "mark": {"type": "line", "color": "#c8c8c8", "strokeWidth": 1, "clip": true}},
   {"data": {"name": "s"}, "transform": [{"filter": "datum.p === 'B'"}], "mark": {"type": "line", "color": "#00008b", "strokeWidth": 1.5, "clip": true}},
   {"data": {"name": "s"}, "transform": [{"filter": "datum.p === 'B'"}], "mark": {"type": "point", "filled": true, "size": 13, "opacity": 1, "color": "#00008b", "clip": true}},
   {"data": {"values": [{"E": 1.25, "j": 0.00082, "E2": 0.52, "j2": 0.00082}, {"E": 1.362, "j": 0.00063, "E2": 1.362, "j2": 0.00013}]}, "mark": {"type": "rule", "color": "#555555", "strokeWidth": 1}, "encoding": {"x2": {"field": "E2"}, "y2": {"field": "j2"}}},
   {"data": {"values": [{"E": 0.53, "j": 0.00082}]}, "mark": {"type": "point", "shape": "triangle-left", "filled": true, "size": 30, "opacity": 1, "color": "#555555"}},
   {"data": {"values": [{"E": 1.362, "j": 0.000126}]}, "mark": {"type": "point", "shape": "triangle-down", "filled": true, "size": 30, "opacity": 1, "color": "#555555"}},
   {"data": {"values": [{"E": 0.62, "j": 0.00146, "t": "j"}, {"E": 1.44, "j": 0.000145, "t": "E"}]}, "mark": {"type": "text", "fontSize": 17, "fontStyle": "italic", "align": "left", "baseline": "alphabetic", "color": "#222222"}, "encoding": {"text": {"field": "t"}}},
   {"data": {"values": [{"E": 0.685, "j": 0.00117, "t": "corr"}, {"E": 1.6, "j": 0.00012, "t": "corr"}]}, "mark": {"type": "text", "fontSize": 12.5, "align": "left", "baseline": "alphabetic", "color": "#222222"}, "encoding": {"text": {"field": "t"}}},
   {"data": {"name": "lab"}, "transform": [{"filter": "datum.p === 'B'"}], "mark": {"type": "text", "fontSize": 26, "fontWeight": "bold", "color": "#000000"}, "encoding": {"text": {"field": "t"}}}
  ]},
 {"width": 264, "height": 184,
  "encoding": {"x": {"field": "E", "type": "quantitative", "scale": {"domain": [-1.1, 3.08], "nice": false, "zero": false}, "axis": null},
   "y": {"field": "j", "type": "quantitative", "scale": {"type": "log", "domain": [0.001, 1000], "nice": false}, "axis": {"values": [0.001, 0.01, 0.1, 1, 10, 100], "format": "~g", "title": "(\u03bcA cm\u207b\u00b2)", "titleFontSize": 32, "titleFontWeight": "normal", "titleX": -73, "titleY": 190, "titleAngle": -90, "titleBaseline": "alphabetic", "titleAlign": "center"}}},
  "layer": [
   {"data": {"name": "ref1"}, "mark": {"type": "line", "color": "#c8c8c8", "strokeWidth": 1, "clip": true}},
   {"data": {"name": "s"}, "transform": [{"filter": "datum.p === 'C'"}], "mark": {"type": "line", "color": "#0000ff", "strokeWidth": 1.5, "clip": true}},
   {"data": {"name": "s"}, "transform": [{"filter": "datum.p === 'C'"}], "mark": {"type": "point", "filled": true, "size": 13, "opacity": 1, "color": "#0000ff", "clip": true}},
   {"data": {"name": "lab"}, "transform": [{"filter": "datum.p === 'C'"}], "mark": {"type": "text", "fontSize": 26, "fontWeight": "bold", "color": "#000000"}, "encoding": {"text": {"field": "t"}}}
  ]},
 {"width": 265, "height": 184,
  "encoding": {"x": {"field": "E", "type": "quantitative", "scale": {"domain": [-1.1, 3.08], "nice": false, "zero": false}, "axis": null},
   "y": {"field": "j", "type": "quantitative", "scale": {"type": "log", "domain": [0.001, 1000], "nice": false}, "axis": null}},
  "layer": [
   {"data": {"name": "ref3"}, "mark": {"type": "line", "color": "#c8c8c8", "strokeWidth": 1.5, "clip": true}},
   {"data": {"name": "ref3"}, "mark": {"type": "point", "filled": true, "size": 10, "opacity": 1, "color": "#c8c8c8", "clip": true}},
   {"data": {"name": "s"}, "transform": [{"filter": "datum.p === 'D'"}], "mark": {"type": "line", "color": "#008000", "strokeWidth": 1, "clip": true}},
   {"data": {"name": "s"}, "transform": [{"filter": "datum.p === 'D'"}], "mark": {"type": "point", "filled": true, "size": 3, "opacity": 1, "color": "#008000", "clip": true}},
   {"data": {"name": "lab"}, "transform": [{"filter": "datum.p === 'D'"}], "mark": {"type": "text", "fontSize": 26, "fontWeight": "bold", "color": "#000000"}, "encoding": {"text": {"field": "t"}}}
  ]},
 {"width": 264, "height": 184,
  "encoding": {"x": {"field": "E", "type": "quantitative", "scale": {"domain": [-1.1, 3.08], "nice": false, "zero": false}, "axis": null},
   "y": {"field": "j", "type": "quantitative", "scale": {"type": "log", "domain": [0.0001, 1000], "nice": false}, "axis": {"values": [0.0001, 0.001, 0.01, 0.1, 1, 10, 100], "format": "~g", "title": "j", "titleFontSize": 32, "titleFontWeight": "bold", "titleFontStyle": "italic", "titleX": -73, "titleY": 107, "titleAngle": -90, "titleBaseline": "alphabetic", "titleAlign": "center"}}},
  "layer": [
   {"data": {"name": "ref1"}, "mark": {"type": "line", "color": "#c8c8c8", "strokeWidth": 1, "clip": true}},
   {"data": {"name": "s"}, "transform": [{"filter": "datum.p === 'E'"}], "mark": {"type": "line", "color": "#808000", "strokeWidth": 1.5, "clip": true}},
   {"data": {"name": "s"}, "transform": [{"filter": "datum.p === 'E'"}], "mark": {"type": "point", "filled": true, "size": 13, "opacity": 1, "color": "#808000", "clip": true}},
   {"data": {"name": "lab"}, "transform": [{"filter": "datum.p === 'E'"}], "mark": {"type": "text", "fontSize": 26, "fontWeight": "bold", "color": "#000000"}, "encoding": {"text": {"field": "t"}}}
  ]},
 {"width": 265, "height": 184,
  "encoding": {"x": {"field": "E", "type": "quantitative", "scale": {"domain": [-1.1, 3.08], "nice": false, "zero": false}, "axis": null},
   "y": {"field": "j", "type": "quantitative", "scale": {"type": "log", "domain": [0.0001, 1000], "nice": false}, "axis": null}},
  "layer": [
   {"data": {"name": "ref2"}, "mark": {"type": "line", "color": "#c8c8c8", "strokeWidth": 1.5, "clip": true}},
   {"data": {"name": "ref2"}, "mark": {"type": "point", "filled": true, "size": 10, "opacity": 1, "color": "#c8c8c8", "clip": true}},
   {"data": {"name": "s"}, "transform": [{"filter": "datum.p === 'F'"}], "mark": {"type": "line", "color": "#800080", "strokeWidth": 1.3, "clip": true}},
   {"data": {"name": "s"}, "transform": [{"filter": "datum.p === 'F'"}], "mark": {"type": "point", "filled": true, "size": 3, "opacity": 1, "color": "#800080", "clip": true}},
   {"data": {"name": "lab"}, "transform": [{"filter": "datum.p === 'F'"}], "mark": {"type": "text", "fontSize": 26, "fontWeight": "bold", "color": "#000000"}, "encoding": {"text": {"field": "t"}}}
  ]},
 {"width": 264, "height": 184,
  "encoding": {"x": {"field": "E", "type": "quantitative", "scale": {"domain": [-1.1, 3.08], "nice": false, "zero": false}, "axis": {"values": [-1, 0, 1, 2, 3], "labelExpr": "'' + datum.value", "title": "E", "titleFontSize": 32, "titleFontWeight": "bold", "titleFontStyle": "italic", "titleX": 161, "titleY": 84, "titleBaseline": "alphabetic", "titleAlign": "center"}},
   "y": {"field": "j", "type": "quantitative", "scale": {"type": "log", "domain": [0.0001, 1000], "nice": false}, "axis": {"values": [0.0001, 0.001, 0.01, 0.1, 1, 10, 100], "format": "~g", "title": null}}},
  "layer": [
   {"data": {"name": "ref1"}, "mark": {"type": "line", "color": "#c8c8c8", "strokeWidth": 1, "clip": true}},
   {"data": {"name": "s"}, "transform": [{"filter": "datum.p === 'G'"}], "mark": {"type": "line", "color": "#008080", "strokeWidth": 1.5, "clip": true}},
   {"data": {"name": "s"}, "transform": [{"filter": "datum.p === 'G'"}], "mark": {"type": "point", "filled": true, "size": 13, "opacity": 1, "color": "#008080", "clip": true}},
   {"data": {"name": "lab"}, "transform": [{"filter": "datum.p === 'G'"}], "mark": {"type": "text", "fontSize": 26, "fontWeight": "bold", "color": "#000000"}, "encoding": {"text": {"field": "t"}}}
  ]},
 {"width": 265, "height": 184,
  "encoding": {"x": {"field": "E", "type": "quantitative", "scale": {"domain": [-1.1, 3.08], "nice": false, "zero": false}, "axis": {"values": [-1, 0, 1, 2, 3], "labelExpr": "'' + datum.value", "title": "(V vs. RHE)", "titleFontSize": 32, "titleFontWeight": "normal", "titleX": 17, "titleY": 84, "titleBaseline": "alphabetic", "titleAlign": "center"}},
   "y": {"field": "j", "type": "quantitative", "scale": {"type": "log", "domain": [0.0001, 1000], "nice": false}, "axis": null}},
  "layer": [
   {"data": {"name": "ref2"}, "mark": {"type": "line", "color": "#c8c8c8", "strokeWidth": 1, "clip": true}},
   {"data": {"name": "s"}, "transform": [{"filter": "datum.p === 'H'"}], "mark": {"type": "line", "color": "#00ffff", "strokeWidth": 1.5, "clip": true}},
   {"data": {"name": "s"}, "transform": [{"filter": "datum.p === 'H'"}], "mark": {"type": "point", "filled": true, "size": 13, "opacity": 1, "color": "#00ffff", "clip": true}},
   {"data": {"name": "s"}, "transform": [{"filter": "datum.p === 'H' && datum.E >= -0.55 && datum.E <= 1.98"}], "mark": {"type": "point", "filled": true, "size": 10, "opacity": 1, "color": "#00ff00", "clip": true}},
   {"data": {"name": "lab"}, "transform": [{"filter": "datum.p === 'H'"}], "mark": {"type": "text", "fontSize": 26, "fontWeight": "bold", "color": "#000000"}, "encoding": {"text": {"field": "t"}}}
  ]}
]
}
